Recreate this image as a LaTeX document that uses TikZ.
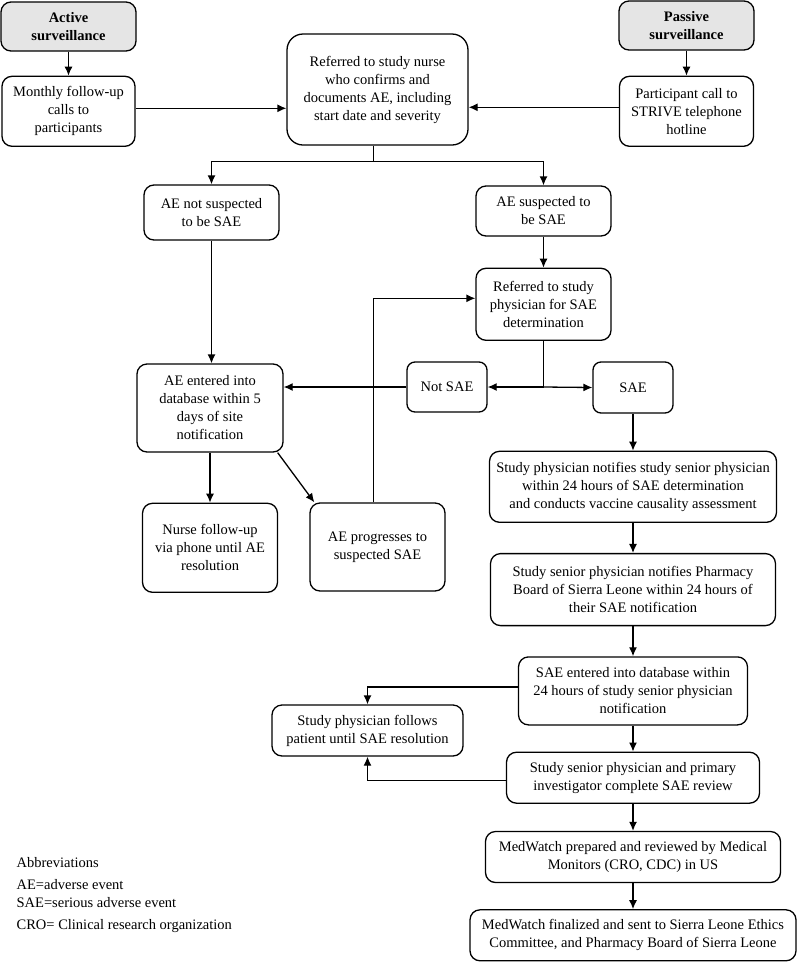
\documentclass[tikz,border=0pt]{standalone}
\usepackage{fontspec}
\setmainfont{Liberation Serif}
\usetikzlibrary{positioning, arrows.meta}

\begin{document}
\begin{tikzpicture}[x=1pt, y=-1pt, >={Latex[length=9pt,width=8pt]}, line width=1.3pt,
  font=\fontsize{14.5}{18}\selectfont,
  box/.style={draw, rectangle, rounded corners=10pt, align=center, inner sep=2pt},
  source/.style={box, fill=black!10, font=\fontsize{14.5}{18}\selectfont\bfseries}]
\useasboundingbox (0,0) rectangle (799,962);
\node (active) [source, minimum width=135pt, minimum height=49pt] at (68.5,26.5) {Active\\surveillance};
\node (monthly) [box, below=24pt of active, minimum width=133pt, minimum height=70pt] {Monthly follow-up\\calls to\\participants};
\node (passive) [source, minimum width=135pt, minimum height=49pt] at (686.5,25.5) {Passive\\surveillance};
\node (call) [box, below=25pt of passive, minimum width=134pt, minimum height=70pt] {Participant call to\\STRIVE telephone\\hotline};
\node (nurse) [box, rounded corners=16pt, minimum width=181pt, minimum height=111pt] at (377.5,89.5) {Referred to study nurse\\who confirms and\\documents AE, including\\start date and severity};
\node (notsusp) [box, minimum width=135pt, minimum height=55pt] at (211.5,212.5) {AE not suspected\\to be SAE};
\node (susp) [box, minimum width=135pt, minimum height=50pt] at (543.5,211) {AE suspected to\\be SAE};
\node (physref) [box, below=31pt of susp, minimum width=135pt, minimum height=72pt] {Referred to study\\physician for SAE\\determination};
\node (notsae) [box, rounded corners=8pt, minimum width=80pt, minimum height=50pt] at (447,387) {Not SAE};
\node (sae) [box, rounded corners=8pt, minimum width=80pt, minimum height=51pt] at (633,387.5) {SAE};
\node (aedb) [box, minimum width=146pt, minimum height=88pt] at (210,408) {AE entered into\\database within 5\\days of site\\notification};
\node (nursefu) [box, below=50pt of aedb, minimum width=135pt, minimum height=89pt] {Nurse follow-up\\via phone until AE\\resolution};
\node (progress) [box, minimum width=135pt, minimum height=88pt] at (377.5,547) {AE progresses to\\suspected SAE};
\node (notify) [box, below=37pt of sae, minimum width=287pt, minimum height=71pt] {Study physician notifies study senior physician\\within 24 hours of SAE determination\\and conducts vaccine causality assessment};
\node (pharmacy) [box, below=30pt of notify, minimum width=285pt, minimum height=72pt] {Study senior physician notifies Pharmacy\\Board of Sierra Leone within 24 hours of\\their SAE notification};
\node (saedb) [box, below=30pt of pharmacy, minimum width=229pt, minimum height=68pt] {SAE entered into database within\\24 hours of study senior physician\\notification};
\node (review) [box, below=26pt of saedb, minimum width=253pt, minimum height=51pt] {Study senior physician and primary\\investigator complete SAE review};
\node (medwatch) [box, below=27pt of review, minimum width=295pt, minimum height=51pt] {MedWatch prepared and reviewed by Medical\\Monitors (CRO, CDC) in US};
\node (final) [box, below=26pt of medwatch, minimum width=326pt, minimum height=51pt] {MedWatch finalized and sent to Sierra Leone Ethics\\Committee, and Pharmacy Board of Sierra Leone};
\node (follows) [box, minimum width=191pt, minimum height=51pt] at (367.5,730.5) {Study physician follows\\patient until SAE resolution};
\node (abbrev) [anchor=north west, align=left, inner sep=0pt] at (16,857) {Abbreviations\\[4pt]AE=adverse event\\SAE=serious adverse event\\[4pt]CRO= Clinical research organization};
\draw[->] (active) -- (monthly);
\draw[->] (passive) -- (call);
\draw[->] ([yshift=3pt]monthly.east) -- ([yshift=3pt]monthly.east -| nurse.west);
\draw[->] ([yshift=4pt]call.west) -- ([yshift=4pt]call.west -| nurse.east);
\draw ([xshift=-4pt]nurse.south) -- ++(0,16) coordinate (split);
\draw[->] (split) -| (notsusp.north);
\draw[->] (split) -| (susp.north);
\draw[->] (notsusp.south) -- (notsusp.south |- aedb.north);
\draw[->] (susp) -- (physref);
\draw (physref.south) -- (physref.south |- notsae) coordinate (branch);
\draw[->] (branch) -- (notsae.east);
\draw[->] (branch) -- (sae.west);
\draw[->] (notsae.west) -- (notsae.west -| aedb.east);
\draw[->] (aedb) -- (nursefu);
\draw[->] ([xshift=-6pt]aedb.south east) -- ([xshift=5pt]progress.north west);
\draw[->] ([xshift=-4pt]progress.north) |- ([yshift=6pt]physref.west);
\draw[->] (sae) -- (notify);
\draw[->] (notify) -- (pharmacy);
\draw[->] (pharmacy) -- (saedb);
\draw[->] (saedb) -- (review);
\draw[->] (review) -- (medwatch);
\draw[->] (medwatch) -- (final);
\draw[->] ([yshift=4pt]saedb.west) -| (follows.north);
\draw[->] ([yshift=-2.5pt]review.west) -| (follows.south);
\end{tikzpicture}
\end{document}
